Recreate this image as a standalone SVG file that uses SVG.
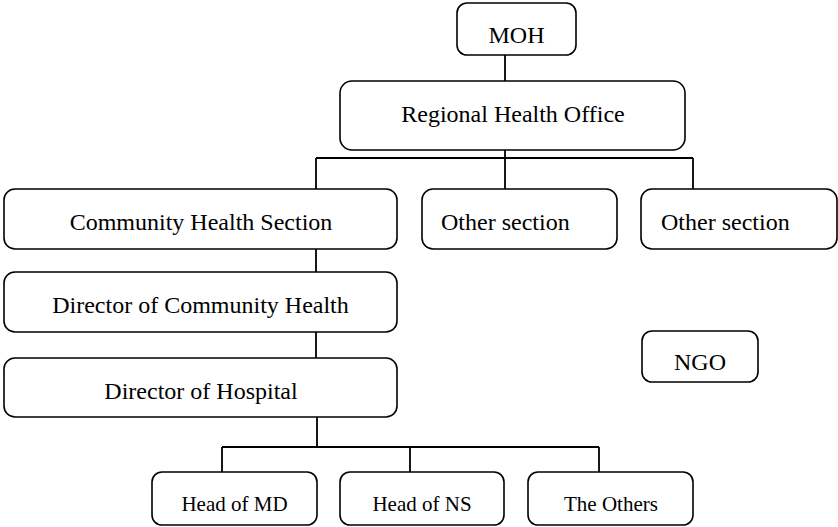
<svg xmlns="http://www.w3.org/2000/svg" width="838" height="527" viewBox="0 0 838 527">
<style>
.box{fill:#fff;stroke:#000;stroke-width:1.6}
.t{font-family:"Liberation Serif","Times New Roman",serif;font-size:24px;fill:#000}
.s{font-size:21px}
.c{text-anchor:middle}
.ln{stroke:#000;stroke-width:1.8;fill:none}
</style>
<rect width="838" height="527" fill="#fff"/>
<g id="connectors">
<path class="ln" d="M505 55V81"/>
<path class="ln" d="M505 150V158M316 158H693M316 158V189M505 158V189M693 158V189"/>
<path class="ln" d="M316 249V272M316 332V358"/>
<path class="ln" d="M317 417V447M222 447H599M222 447V472M410 447V472M599 447V472"/>
</g>
<g id="moh"><rect class="box" x="457" y="3" width="119" height="52" rx="10"/><text class="t c" x="516.5" y="43">MOH</text></g>
<g id="rho"><rect class="box" x="340" y="81" width="345" height="69" rx="12"/><text class="t c" x="513" y="122">Regional Health Office</text></g>
<g id="chs"><rect class="box" x="4" y="189" width="393" height="60" rx="11"/><text class="t c" x="201" y="230">Community Health Section</text></g>
<g id="os1"><rect class="box" x="422" y="189" width="195" height="60" rx="11"/><text class="t" x="441" y="230">Other section</text></g>
<g id="os2"><rect class="box" x="641" y="189" width="196" height="60" rx="11"/><text class="t" x="661" y="230">Other section</text></g>
<g id="dch"><rect class="box" x="4" y="272" width="393" height="60" rx="11"/><text class="t c" x="200.5" y="313">Director of Community Health</text></g>
<g id="dh"><rect class="box" x="4" y="358" width="393" height="59" rx="11"/><text class="t c" x="201" y="399">Director of Hospital</text></g>
<g id="ngo"><rect class="box" x="642" y="331" width="116" height="51" rx="10"/><text class="t c" x="700" y="370">NGO</text></g>
<g id="hmd"><rect class="box" x="152" y="472" width="165" height="53" rx="10"/><text class="t s c" x="234.5" y="511">Head of MD</text></g>
<g id="hns"><rect class="box" x="340" y="472" width="164" height="53" rx="10"/><text class="t s c" x="422" y="511">Head of NS</text></g>
<g id="oth"><rect class="box" x="528" y="472" width="165" height="53" rx="10"/><text class="t s c" x="611" y="511">The Others</text></g>
</svg>
